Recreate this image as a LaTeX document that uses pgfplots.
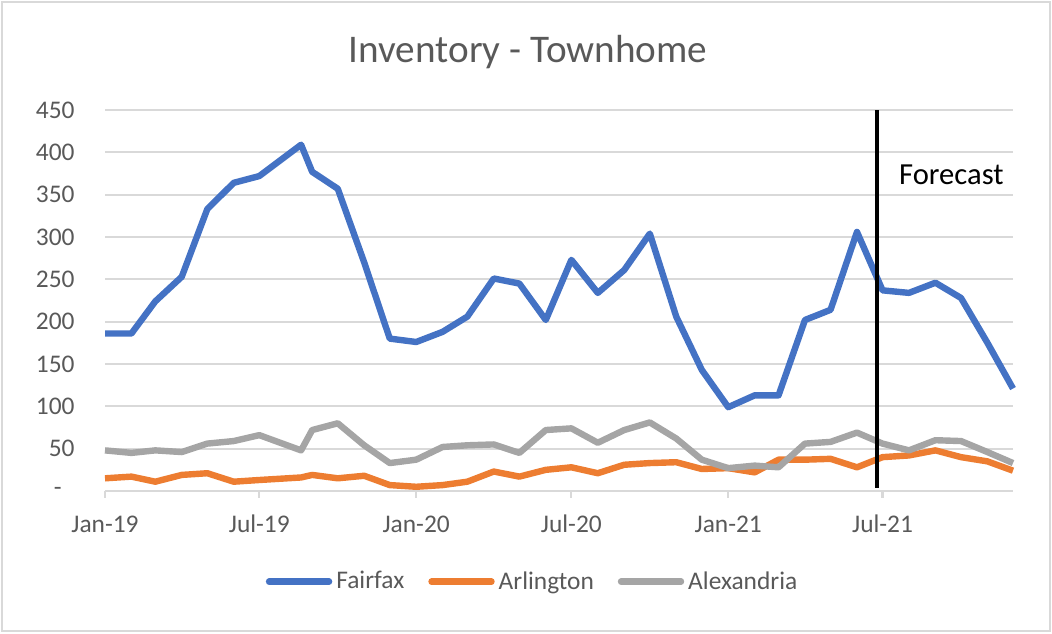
\documentclass[border=0pt]{standalone}
\usepackage{fontspec}
\setmainfont{Carlito}
\usepackage{pgfplots}
\pgfplotsset{compat=1.18}
\definecolor{fblue}{HTML}{4472C4}
\definecolor{forange}{HTML}{ED7D31}
\definecolor{fgray}{HTML}{A5A5A5}
\definecolor{txt}{HTML}{595959}
\definecolor{gridc}{HTML}{D9D9D9}
\begin{document}
\begin{tikzpicture}[x=1pt,y=1pt]
\useasboundingbox (0,0) rectangle (526,316.5);
\draw[color=gridc, line width=0.8pt] (1,1) rectangle (525,315.5);
\node[anchor=base, font=\fontsize{19.6}{22}\selectfont, text=txt, inner sep=0pt] at (264,285) {Inventory - Townhome};
\begin{axis}[
  at={(52.5pt,71pt)}, anchor=south west,
  scale only axis, width=454pt, height=190.5pt,
  xmin=0, xmax=1065, ymin=0, ymax=450,
  clip=false,
  axis lines=left, axis line style={-},
  x axis line style={draw=gridc, line width=1.1pt},
  y axis line style={draw=none},
  ytick={0,50,100,150,200,250,300,350,400,450},
  yticklabels={{-\hspace*{6.5pt}},50,100,150,200,250,300,350,400,450},
  xtick={0,181,365,547,731,912},
  xticklabels={Jan-19,Jul-19,Jan-20,Jul-20,Jan-21,Jul-21},
  tick align=outside,
  major tick length=3.3pt,
  x tick style={draw=gridc, line width=1.1pt},
  y tick style={draw=none},
  ymajorgrids, grid style={draw=gridc, line width=1.1pt},
  ticklabel style={font=\fontsize{12.7}{15}\selectfont, text=txt},
  yticklabel style={anchor=east, inner sep=0pt, xshift=-11.7pt},
  xticklabel style={anchor=base, inner sep=0pt, yshift=-17.2pt},
  /pgf/number format/assume math mode=true,
  legend columns=3,
  legend style={at={(axis description cs:0.472,-0.238)}, anchor=center, draw=none, fill=none,
    font=\fontsize{12.7}{15}\selectfont, text=txt,
    /tikz/every even column/.append style={column sep=10pt}},
  legend image code/.code={\draw[#1, line cap=round] (0pt,0pt) -- (30pt,0pt);},
  every axis plot/.append style={line width=3.2pt, line join=round},
]
\addplot[fblue] table {
0 186
31 186
59 224
90 253
120 333
151 364
181 372
230 409
243 377
273 357
304 270
334 180
365 176
396 188
425 206
456 251
486 245
517 202
547 273
578 234
609 261
639 304
670 206
700 143
731 99
762 113
790 113
821 202
851 214
882 306
912 237
943 234
974 246
1004 228
1035 175
1065 121
};
\addlegendentry{Fairfax}
\addplot[forange] table {
0 15
31 17
59 11
90 19
120 21
151 11
181 13
230 16
243 19
273 15
304 18
334 7
365 5
396 7
425 11
456 23
486 17
517 25
547 28
578 21
609 31
639 33
670 34
700 26
731 27
762 22
790 37
821 37
851 38
882 28
912 40
943 42
974 48
1004 40
1035 35
1065 24
};
\addlegendentry{Arlington}
\addplot[fgray] table {
0 48
31 45
59 48
90 46
120 56
151 59
181 66
230 48
243 72
273 80
304 54
334 33
365 37
396 52
425 54
456 55
486 45
517 72
547 74
578 57
609 72
639 81
670 62
700 37
731 27
762 30
790 28
821 56
851 58
882 69
912 56
943 48
974 60
1004 59
1035 46
1065 33
};
\addlegendentry{Alexandria}
\addplot[black, line width=2.1pt, forget plot] coordinates {(905,4) (905,450)};
\node[anchor=base west, inner sep=0pt, font=\fontsize{15.3}{18}\selectfont, text=black] at (axis cs:931,362) {Forecast};
\end{axis}
\end{tikzpicture}
\end{document}
